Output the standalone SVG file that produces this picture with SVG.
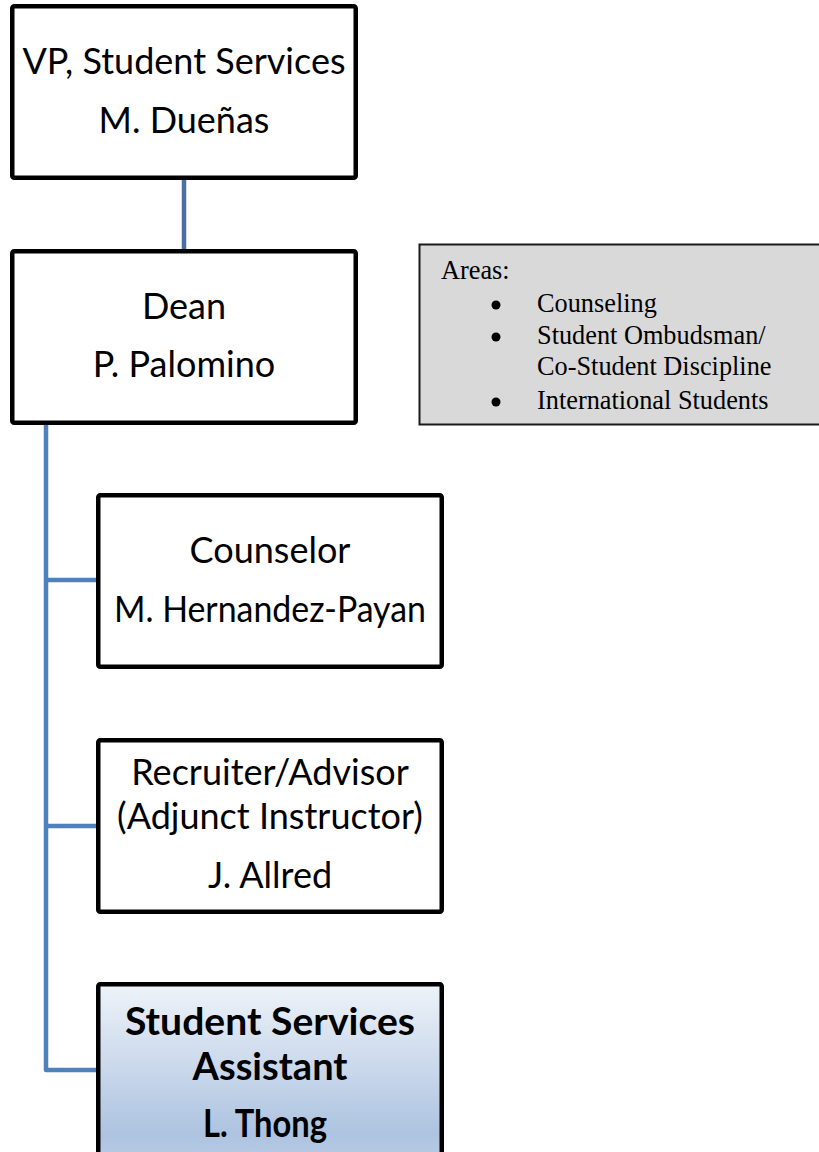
<svg xmlns="http://www.w3.org/2000/svg" width="819" height="1152" viewBox="0 0 819 1152">
<style>
.box{fill:#ffffff;stroke:#000000;stroke-width:4.5;}
.t{font-family:Lato,"Open Sans",sans-serif;font-size:36px;fill:#000;text-anchor:middle;}
.b{font-family:Lato,"Open Sans",sans-serif;font-size:38px;font-weight:bold;fill:#000;text-anchor:middle;}
.conn{fill:none;stroke:#4f81bd;stroke-width:4.5;stroke-linejoin:round;}
.note{font-family:"Liberation Serif","Times New Roman",serif;font-size:26.3px;fill:#000;}
</style>
<defs>
<linearGradient id="g1" x1="0" y1="0" x2="0" y2="1">
<stop offset="0" stop-color="#eef3f9"/>
<stop offset="0.75" stop-color="#adc3e0"/>
<stop offset="1" stop-color="#c3d3e9"/>
</linearGradient>
</defs>
<g id="connectors">
<line class="conn" x1="184" y1="180" x2="184" y2="250" style="stroke:#4a6fa0"/>
<path class="conn" d="M46 424 V1070 H97"/>
<line class="conn" x1="46" y1="580" x2="97" y2="580"/>
<line class="conn" x1="46" y1="826" x2="97" y2="826"/>
</g>
<g id="vp">
<rect class="box" x="12.25" y="6.25" width="343.5" height="171.5" rx="2"/>
<text class="t" x="184" y="74">VP, Student Services</text>
<text class="t" x="184" y="133">M. Dueñas</text>
</g>
<g id="dean">
<rect class="box" x="12.25" y="251.25" width="343.5" height="171.5" rx="2"/>
<text class="t" x="184" y="319">Dean</text>
<text class="t" x="184" y="377">P. Palomino</text>
</g>
<g id="areas">
<rect x="419.5" y="244.5" width="402" height="180" fill="#d9d9d9" stroke="#1a1a1a" stroke-width="2"/>
<text class="note" x="441" y="279">Areas:</text>
<circle cx="496" cy="305" r="4.5"/>
<text class="note" x="537" y="312">Counseling</text>
<circle cx="496" cy="337" r="4.5"/>
<text class="note" x="537" y="344">Student Ombudsman/</text>
<text class="note" x="537" y="375">Co-Student Discipline</text>
<circle cx="496" cy="402" r="4.5"/>
<text class="note" x="537" y="409">International Students</text>
</g>
<g id="counselor">
<rect class="box" x="98.25" y="495.25" width="343.5" height="171.5" rx="2"/>
<text class="t" x="270" y="563">Counselor</text>
<text class="t" x="270" y="622" textLength="312" lengthAdjust="spacingAndGlyphs">M. Hernandez-Payan</text>
</g>
<g id="recruiter">
<rect class="box" x="98.25" y="740.25" width="343.5" height="171.5" rx="2"/>
<text class="t" x="270" y="785">Recruiter/Advisor</text>
<text class="t" x="270" y="829">(Adjunct Instructor)</text>
<text class="t" x="270" y="888">J. Allred</text>
</g>
<g id="assistant">
<rect x="98.25" y="984.25" width="343.5" height="200" rx="2" fill="url(#g1)" stroke="#000" stroke-width="4.5"/>
<text class="b" x="270" y="1035" textLength="290" lengthAdjust="spacingAndGlyphs">Student Services</text>
<text class="b" x="270" y="1080">Assistant</text>
<text class="b" x="265" y="1137" textLength="124" lengthAdjust="spacingAndGlyphs">L. Thong</text>
</g>
</svg>
